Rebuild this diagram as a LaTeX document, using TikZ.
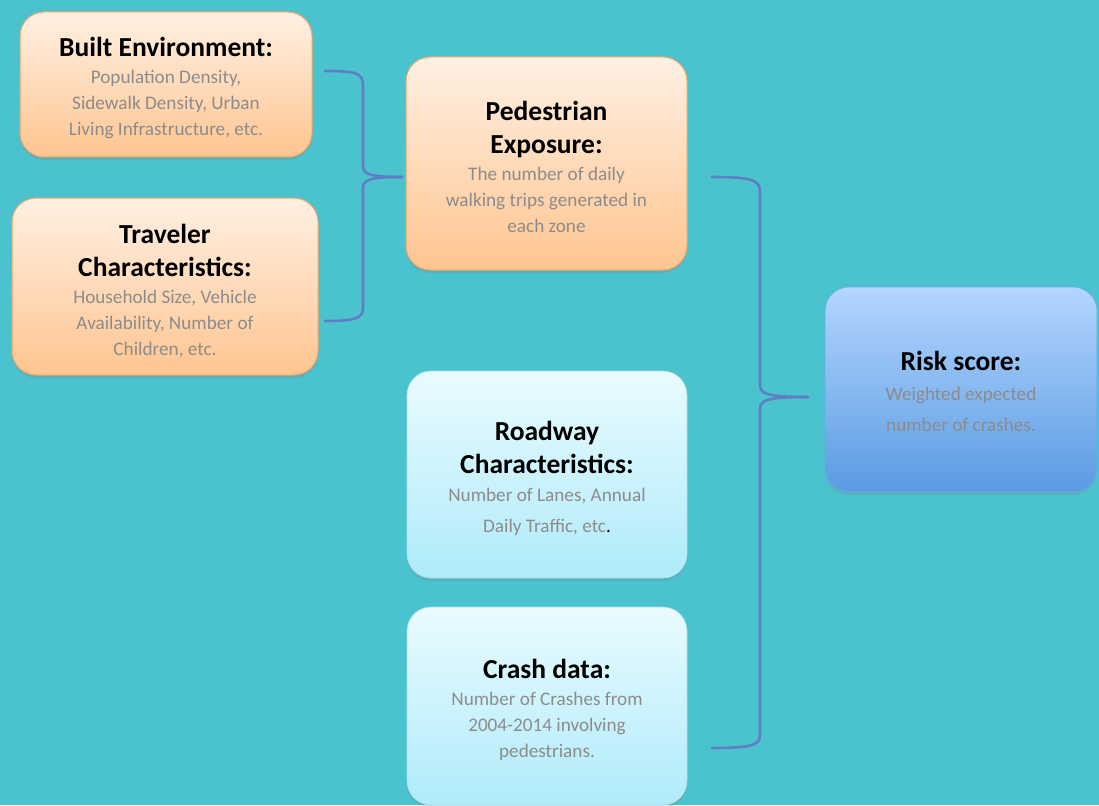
\documentclass[tikz,border=0pt]{standalone}
\usepackage{fontspec}
\setmainfont{Carlito}
\usetikzlibrary{shadows}
\definecolor{bg}{HTML}{4BC3CF}
\definecolor{bodygray}{HTML}{8C8C8C}
\definecolor{bracec}{HTML}{5E7FC4}
\definecolor{orTop}{HTML}{FFF0E3}
\definecolor{orBot}{HTML}{FFC590}
\definecolor{orLine}{HTML}{EFA565}
\definecolor{ltTop}{HTML}{EAFBFF}
\definecolor{ltBot}{HTML}{AFEBFA}
\definecolor{ltLine}{HTML}{A6DFEA}
\definecolor{rkTop}{HTML}{B4D6FF}
\definecolor{rkBot}{HTML}{5A9BE2}
\definecolor{rkLine}{HTML}{6FA7E6}
\newcommand{\ttl}[1]{{\color{black}\bfseries\fontsize{27.5}{30}\selectfont #1}}
\newcommand{\pushdown}[1]{\rule{0pt}{#1}}
\tikzset{
  box/.style={rounded corners=24pt, align=center, inner sep=0pt,
    font=\fontsize{19.2}{26}\selectfont, text=bodygray,
    drop shadow={shadow xshift=0pt, shadow yshift=-3pt, opacity=0.25}},
  orbox/.style={box, draw=orLine, line width=1pt, top color=orTop, bottom color=orBot},
  ltbox/.style={box, draw=ltLine, line width=0.6pt, top color=ltTop, bottom color=ltBot},
  rkbox/.style={box, draw=rkLine, line width=0.6pt, top color=rkTop, bottom color=rkBot},
  brace/.style={draw=bracec, line width=2.6pt, line cap=round, line join=round}
}
\begin{document}
\begin{tikzpicture}[x=1pt,y=-1pt]
\useasboundingbox (0,0) rectangle (1099,805);
\fill[bg] (0,0) rectangle (1099,805);

\node[orbox, minimum width=292pt, minimum height=145pt] (built) at (166,84.5)
  {\pushdown{27pt}\ttl{Built Environment:}\\[1pt]
   Population Density,\\ Sidewalk Density, Urban\\ Living Infrastructure, etc.};
\node[orbox, minimum width=306pt, minimum height=177pt] (trav) at (165,286.5)
  {\pushdown{28pt}\ttl{Traveler}\\[7pt] \ttl{Characteristics:}\\[1pt]
   Household Size, Vehicle\\ Availability, Number of\\ Children, etc.};
\node[orbox, minimum width=281pt, minimum height=213pt] (ped) at (546.5,163.5)
  {\pushdown{26pt}\ttl{Pedestrian}\\[7pt] \ttl{Exposure:}\\[1pt]
   The number of daily\\ walking trips generated in\\ each zone};
\node[ltbox, minimum width=280pt, minimum height=207pt] (road) at (547,474.5)
  {\pushdown{28pt}\ttl{Roadway}\\[7pt] \ttl{Characteristics:}\\[2pt]
   Number of Lanes, Annual\\[5pt] Daily Traffic, etc{\color{black}.}};
\node[ltbox, minimum width=280pt, minimum height=198pt] (crash) at (547,706)
  {\pushdown{28pt}\ttl{Crash data:}\\[1pt]
   Number of Crashes from\\ 2004-2014 involving\\ pedestrians.};
\node[rkbox, minimum width=272pt, minimum height=205pt] (risk) at (961,389.5)
  {\pushdown{23pt}\ttl{Risk score:}\\[4pt]
   Weighted expected\\[5pt] number of crashes.};

% left brace
\coordinate (lbTop) at (325,71);
\coordinate (lbTip) at (402,177);
\coordinate (lbBot) at (325,321);
\draw[brace] (lbTop) .. controls (356,71) and (363,73) .. (363,85) -- (363,166)
  .. controls (363,174) and (369,177) .. (lbTip);
\draw[brace] (lbTip) .. controls (369,177) and (363,180) .. (363,188) -- (363,308)
  .. controls (363,318) and (356,321) .. (lbBot);

% right brace
\coordinate (rbTop) at (712,177);
\coordinate (rbTip) at (808,397);
\coordinate (rbBot) at (712,748);
\draw[brace] (rbTop) .. controls (752,177) and (760,180) .. (760,192) -- (760,385)
  .. controls (760,394) and (768,397) .. (rbTip);
\draw[brace] (rbTip) .. controls (768,397) and (760,400) .. (760,409) -- (760,735)
  .. controls (760,745) and (752,748) .. (rbBot);
\end{tikzpicture}
\end{document}
